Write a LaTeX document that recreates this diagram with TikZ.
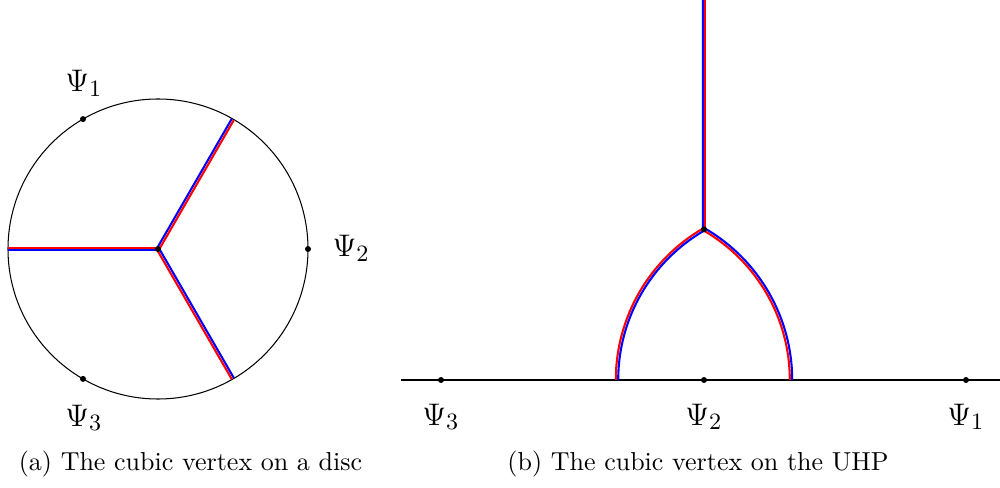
\documentclass[tikz,border=0pt]{standalone}
\usetikzlibrary{calc}
\begin{document}
\begin{tikzpicture}[x=0.3846pt,y=0.3846pt,
  thinblack/.style={line width=0.4pt},
  axisline/.style={line width=0.5pt},
  redline/.style={red,line width=0.8pt},
  blueline/.style={blue,line width=0.8pt},
  dotfill/.style={fill=black,draw=none},
  lbl/.style={inner sep=0pt,font=\fontsize{12.4}{15}\selectfont},
  captext/.style={inner sep=0pt,anchor=base}]
\useasboundingbox (0,0) rectangle (1000,487);
\def\d{1.2}
% ---------- (a) disc ----------
\coordinate (C) at (158,238);
\draw[thinblack] (C) circle[radius=150];
\foreach \t in {60,180,300}{
  \draw[blueline] ($(C)+(\t+90:\d)$) -- ($(C)+(\t:149.6)+(\t+90:\d)$);
  \draw[redline]  ($(C)+(\t-90:\d)$) -- ($(C)+(\t:149.6)+(\t-90:\d)$);
}
\coordinate (P1) at ($(C)+(120:150)$);
\coordinate (P2) at ($(C)+(0:150)$);
\coordinate (P3) at ($(C)+(240:150)$);
\foreach \p in {C,P1,P2,P3} \fill[dotfill] (\p) circle[radius=3];
\node[lbl,anchor=base] (L1) at (84,395) {$\Psi_1$};
\node[lbl,anchor=base west] (L2) at (332,230) {$\Psi_2$};
\node[lbl,anchor=base] (L3) at (84,61) {$\Psi_3$};
\node[captext] (capa) at (190.5,17) {(a) The cubic vertex on a disc};
% ---------- (b) UHP ----------
\coordinate (O) at (704,107);
\coordinate (V) at (704,257.7);
\coordinate (Q1) at (966,107);
\coordinate (Q3) at (441,107);
\draw[axisline] (401,107) -- (1000,107);
% vertical
\draw[blueline] ($(V)+(-\d,0)$) -- (704-\d,487);
\draw[redline]  ($(V)+(\d,0)$) -- (704+\d,487);
% left arc: centre (791,107), radius 174
\draw[redline]  ($(791,107)+(180:174+\d)$) arc[start angle=180,end angle=120,radius=174+\d];
\draw[blueline] ($(791,107)+(180:174-\d)$) arc[start angle=180,end angle=120,radius=174-\d];
% right arc: centre (617,107), radius 174
\draw[blueline] ($(617,107)+(0:174+\d)$) arc[start angle=0,end angle=60,radius=174+\d];
\draw[redline]  ($(617,107)+(0:174-\d)$) arc[start angle=0,end angle=60,radius=174-\d];
\foreach \p in {O,V,Q1,Q3} \fill[dotfill] (\p) circle[radius=3];
\node[lbl,anchor=base] (R3) at (441,62) {$\Psi_3$};
\node[lbl,anchor=base] (R2) at (704,62) {$\Psi_2$};
\node[lbl,anchor=base] (R1) at (966,62) {$\Psi_1$};
\node[captext] (capb) at (698,17) {(b) The cubic vertex on the UHP};
\end{tikzpicture}
\end{document}
